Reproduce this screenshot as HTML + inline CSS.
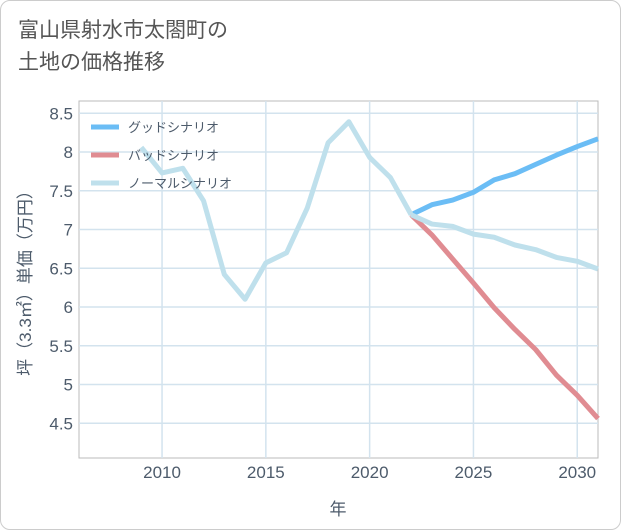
<!DOCTYPE html>
<html><head><meta charset="utf-8"><style>
body{margin:0;background:#fff;}
.wrap{position:relative;width:619px;height:528px;border:1px solid #ccc;border-radius:10px;background:#fff;font-family:"Liberation Sans","Noto Sans CJK JP",sans-serif;overflow:hidden}
.title{position:absolute;left:17px;top:14px;font-size:21px;line-height:32px;color:#555}
svg{position:absolute;left:0;top:0}
</style></head><body>
<div class="wrap">
<div class="title">富山県射水市太閤町の<br>土地の価格推移</div>
<svg id="c" width="621" height="530"></svg>
</div>
<script>
const years=[2009,2010,2011,2012,2013,2014,2015,2016,2017,2018,2019,2020,2021,2022];
const hist=[8.06,7.73,7.79,7.37,6.42,6.10,6.57,6.70,7.28,8.12,8.39,7.93,7.67,7.19];
const fYears=[2022,2023,2024,2025,2026,2027,2028,2029,2030,2031];
const good=[7.19,7.32,7.38,7.48,7.64,7.72,7.84,7.96,8.07,8.17];
const bad=[7.19,6.93,6.62,6.31,5.99,5.71,5.45,5.12,4.86,4.56];
const normal=[7.19,7.07,7.04,6.94,6.90,6.80,6.74,6.64,6.59,6.49];
const xTicks=[2010,2015,2020,2025,2030];
const yTicks=[4.5,5,5.5,6,6.5,7,7.5,8,8.5];
const L=78,R=597,T=100,B=457;
const X=y=>L+(y-2006)*(R-L)/25;
const Y=v=>151+(8-v)*77.5;
const s=document.getElementById('c');const NS='http://www.w3.org/2000/svg';
const TC='#4d5b6b';
function el(t,a,p){const e=document.createElementNS(NS,t);for(const k in a)e.setAttribute(k,a[k]);(p||s).appendChild(e);return e;}
el('rect',{x:L,y:T,width:R-L,height:B-T,fill:'none',stroke:'#bbb'});
yTicks.forEach(v=>{const l=el('line',{x1:L,x2:R,y1:Y(v),y2:Y(v),stroke:'#d3e3ee','stroke-width':1.5});

const t=el('text',{x:L-6,y:Y(v)+6,'text-anchor':'end','font-size':17,fill:TC});t.textContent=String(v);
});
xTicks.forEach(v=>{const l=el('line',{x1:X(v),x2:X(v),y1:T,y2:B,stroke:'#d3e3ee','stroke-width':1.5});

const t=el('text',{x:X(v),y:B+20,'text-anchor':'middle','font-size':17,fill:TC});t.textContent=String(v);
});
function line(xs,vs,c,n){const p=el('polyline',{points:xs.map((x,i)=>X(x)+','+Y(vs[i])).join(' '),fill:'none',stroke:c,'stroke-width':5,'stroke-linejoin':'round'});
}
line(fYears,bad,'#e08c92','bad-scenario-line');
line(fYears,good,'#6bbdf5','good-scenario-line');
line(years,hist,'#bfe0ec','historical-line');
line(fYears,normal,'#bfe0ec','normal-scenario-line');
[['グッドシナリオ','#6bbdf5'],['バッドシナリオ','#e08c92'],['ノーマルシナリオ','#bfe0ec']].forEach((d,i)=>{
const y=126+i*28;const l=el('line',{x1:90,x2:118,y1:y,y2:y,stroke:d[1],'stroke-width':5});

const t=el('text',{x:127,y:y+5,'font-size':13,fill:TC});t.textContent=d[0];
});
const xt=el('text',{x:337,y:514,'text-anchor':'middle','font-size':17,fill:TC});xt.textContent='年';

const yt=el('text',{x:0,y:0,'text-anchor':'middle','font-size':17,fill:TC,transform:'translate(30,278) rotate(-90)'});yt.textContent='坪（3.3㎡）単価（万円）';

</script>
</body></html>
